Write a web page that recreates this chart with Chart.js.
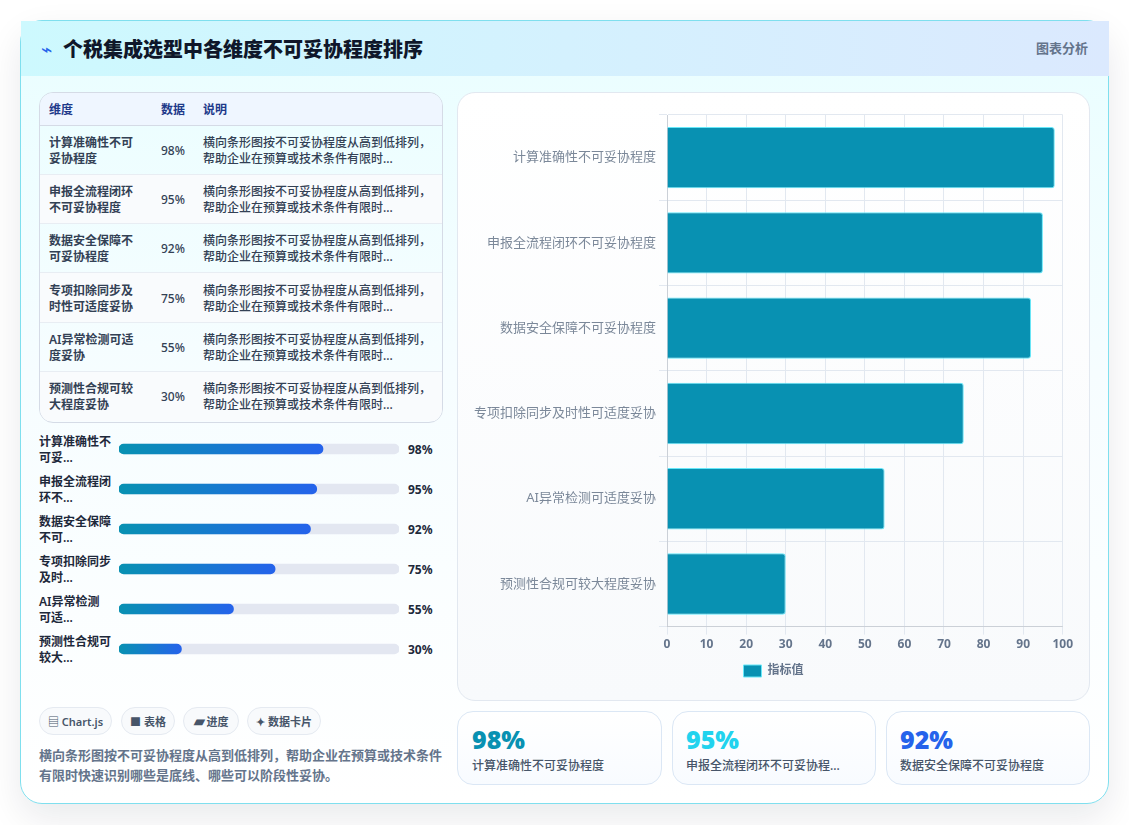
<!DOCTYPE html>
<html lang="zh">
<head>
<meta charset="utf-8">
<title>个税集成选型中各维度不可妥协程度排序</title>
<script src="https://cdn.jsdelivr.net/npm/chart.js@4/dist/chart.umd.min.js"></script>
<style>
* { box-sizing: border-box; }
html, body { margin: 0; height: 825px; overflow: hidden; background: #fff; }
body { font-family: "Noto Sans", "Noto Sans CJK SC", sans-serif; color: #1e293b; position: relative; }
.shell {
    position: absolute; left: 20px; top: 20px; width: 1089px; height: 784px;
    border: 1px solid #7fdfee; border-radius: 22px;
    background: linear-gradient(180deg, #e9feff 0%, #f6fdff 45%, #ffffff 100%);
    box-shadow: 0 14px 36px rgba(15, 23, 42, .09);
}
.head {
    position: absolute; left: 0; top: 0; right: -1px; height: 55px;
    background: linear-gradient(90deg, #cdf9fe 0%, #dbe9fe 100%);
    display: flex; align-items: center; padding: 0 20px;
}
.head .bolt { color: #2563eb; font-size: 19px; width: 22px; margin-top: 1px; line-height: 1; }
.head h1 { margin: 0; font-size: 20px; font-weight: 800; color: #0f172a; flex: 1; }
.head .tag { font-size: 13px; font-weight: 600; color: #64748b; margin-right: 1px; margin-top: -3px; }

.grid { position: absolute; left: 39px; top: 92px; width: 404px; height: 331px;
    border: 1px solid #d5dbe6; border-radius: 14px; overflow: hidden; font-size: 12px; }
table { width: 100%; border-collapse: collapse; table-layout: fixed; }
th { height: 32px; background: #eff6ff; color: #1e3a8a; text-align: left; font-weight: 700; padding: 0 0 0 9px;
    border-bottom: 1px solid #d5dbe6; }
td { height: 49.3px; padding: 2px 0 0 9px; font-weight: 500; color: #334155; line-height: 16px;
    border-bottom: 1px solid #e8edf3; }
td:first-child { font-weight: 600; color: #334155; }
tr:nth-child(even) td { background: #f9fbfd; }
tr:last-child td { border-bottom: 0; }

.plabel { position: absolute; left: 39px; width: 76px; font-size: 12px; font-weight: 600; line-height: 16px; color: #1e293b; }
.pval { position: absolute; left: 408px; font-size: 12px; font-weight: 700; color: #1e293b; line-height: 16px; }
#progressWrap { position: absolute; left: 119px; top: 429px; width: 280px; height: 240px; }

.chips { position: absolute; left: 39px; top: 707px; display: flex; gap: 8px; }
.chip { height: 28px; border: 1px solid #e5eaf1; border-radius: 14px; background: #f8fafc;
    font-size: 11px; font-weight: 600; color: #475569; display: flex; align-items: center; justify-content: center;
    gap: 2px; white-space: nowrap; }
.note { position: absolute; left: 39px; top: 745px; width: 408px; margin: 0; font-size: 13px; font-weight: 600;
    line-height: 20px; color: #64748b; }

.panel { position: absolute; left: 457px; top: 92px; width: 633px; height: 609px;
    border: 1px solid #e2e8f0; border-radius: 18px;
    background: linear-gradient(180deg, #ffffff 0%, #f8fafc 100%); }
#mainChart { position: absolute; left: 13px; top: 0; }

.card { position: absolute; top: 711px; height: 74px; border: 1px solid #dbe7f5; border-radius: 16px;
    background: linear-gradient(180deg, #ffffff 0%, #f8fbff 100%); padding: 8px 14px; }
.card + .card { padding-left: 13px; }
.card b { display: block; font-size: 25px; font-weight: 900; line-height: 38px; }
.card span { display: block; font-size: 12px; font-weight: 500; line-height: 16px; color: #475569; }
</style>
</head>
<body>
<div class="shell">
    <div class="head">
        <span class="bolt">⌁</span>
        <h1>个税集成选型中各维度不可妥协程度排序</h1>
        <span class="tag">图表分析</span>
    </div>
</div>

<div class="grid"><table id="dimTable">
    <colgroup><col style="width:112px"><col style="width:42px"><col></colgroup>
    <thead><tr><th>维度</th><th>数据</th><th>说明</th></tr></thead>
    <tbody></tbody>
</table></div>

<div id="progressLabels"></div>
<div id="progressWrap"><canvas id="progressChart"></canvas></div>

<div class="chips">
    <span class="chip" style="width:73px">▤ Chart.js</span>
    <span class="chip" style="width:54px;margin-left:1px">■ 表格</span>
    <span class="chip" style="width:56px"><span style="font-size:14px;line-height:1">▰</span> 进度</span>
    <span class="chip" style="width:74px">✦ 数据卡片</span>
</div>
<p class="note">横向条形图按不可妥协程度从高到低排列，帮助企业在预算或技术条件有限时快速识别哪些是底线、哪些可以阶段性妥协。</p>

<div class="panel"><canvas id="mainChart"></canvas></div>

<div id="cards"></div>

<script>
const categories = ["计算准确性不可妥协程度", "申报全流程闭环不可妥协程度", "数据安全保障不可妥协程度", "专项扣除同步及时性可适度妥协", "AI异常检测可适度妥协", "预测性合规可较大程度妥协"];
const values = [98, 95, 92, 75, 55, 30];
const tableNames = ["计算准确性不可<br>妥协程度", "申报全流程闭环<br>不可妥协程度", "数据安全保障不<br>可妥协程度", "专项扣除同步及<br>时性可适度妥协", "AI异常检测可适<br>度妥协", "预测性合规可较<br>大程度妥协"];
const shortNames = ["计算准确性不<br>可妥...", "申报全流程闭<br>环不...", "数据安全保障<br>不可...", "专项扣除同步<br>及时...", "AI异常检测<br>可适...", "预测性合规可<br>较大..."];
const description = "横向条形图按不可妥协程度从高到低排列，<br>帮助企业在预算或技术条件有限时...";
const cardNames = ["计算准确性不可妥协程度", "申报全流程闭环不可妥协程...", "数据安全保障不可妥协程度"];
const cardColors = ["#0891b2", "#22d3ee", "#2563eb"];
const cardLefts = [457, 672, 886];
const cardWidths = [205, 204, 204];
const legendLabel = "指标值";
const progressScaleMax = 134.5;

Chart.defaults.animation = false;
Chart.defaults.font.family = '"Noto Sans", "Noto Sans CJK SC", sans-serif';

const tbody = document.querySelector("#dimTable tbody");
values.forEach((v, i) => {
    const tr = document.createElement("tr");
    tr.innerHTML = `<td>${tableNames[i]}</td><td>${v}%</td><td>${description}</td>`;
    tbody.appendChild(tr);
});

// labels either side of the progress tracks, one row every 40px
const progressLabels = document.getElementById("progressLabels");
values.forEach((v, i) => {
    const y = 434 + i * 40;
    progressLabels.insertAdjacentHTML("beforeend",
        `<div class="plabel" style="top:${y}px">${shortNames[i]}</div>` +
        `<div class="pval" style="top:${y + 8}px">${v}%</div>`);
});

const cards = document.getElementById("cards");
cardNames.forEach((name, i) => {
    cards.insertAdjacentHTML("beforeend",
        `<div class="card" style="left:${cardLefts[i]}px;width:${cardWidths[i]}px">` +
        `<b style="color:${cardColors[i]}">${values[i]}%</b><span>${name}</span></div>`);
});

function fillGradient(context) {
    const el = context.element;
    const { ctx, chartArea } = context.chart;
    if (!el || !chartArea) return "#0891b2";
    const end = context.chart.scales.x.getPixelForValue(values[context.dataIndex]);
    const g = ctx.createLinearGradient(0, 0, end, 0);
    g.addColorStop(0, "#0891b2");
    g.addColorStop(1, "#2563eb");
    return g;
}

new Chart(document.getElementById("progressChart"), {
    type: "bar",
    data: {
        labels: categories,
        datasets: [
            { data: values, backgroundColor: fillGradient, borderRadius: 5, borderSkipped: false, barThickness: 10, order: 1 },
            { data: values.map(() => progressScaleMax), backgroundColor: "#e3e7f1", borderRadius: 5, borderSkipped: false, barThickness: 10, order: 2 }
        ]
    },
    options: {
        indexAxis: "y",
        responsive: true,
        maintainAspectRatio: false,
        layout: { padding: 0 },
        plugins: { legend: { display: false }, tooltip: { enabled: false } },
        scales: {
            x: { display: false, min: 0, max: progressScaleMax },
            y: { display: false, stacked: true }
        }
    }
});

const mainCanvas = document.getElementById("mainChart");
mainCanvas.width = 605;
mainCanvas.height = 607;
new Chart(mainCanvas, {
    type: "bar",
    data: {
        labels: categories,
        datasets: [{
            label: legendLabel,
            data: values,
            backgroundColor: "#0891b2",
            borderColor: "#67e8f9",
            borderWidth: 1,
            borderRadius: 3,
            borderSkipped: "left",
            barPercentage: 0.9,
            categoryPercentage: 0.8
        }]
    },
    options: {
        indexAxis: "y",
        responsive: false,
        layout: { padding: { top: 22, bottom: 13 } },
        plugins: {
            legend: {
                position: "bottom",
                labels: { boxWidth: 18, boxHeight: 12, color: "#64748b", font: { size: 12, weight: "600" } }
            }
        },
        scales: {
            x: {
                min: 0, max: 100,
                ticks: { stepSize: 10, color: "#64748b", font: { size: 12, weight: "700" } },
                grid: { color: "#e2e8f0" }
            },
            y: {
                ticks: { color: "#7b8899", font: { size: 13 } },
                grid: { color: "#e2e8f0" }
            }
        }
    }
});
</script>
</body>
</html>
